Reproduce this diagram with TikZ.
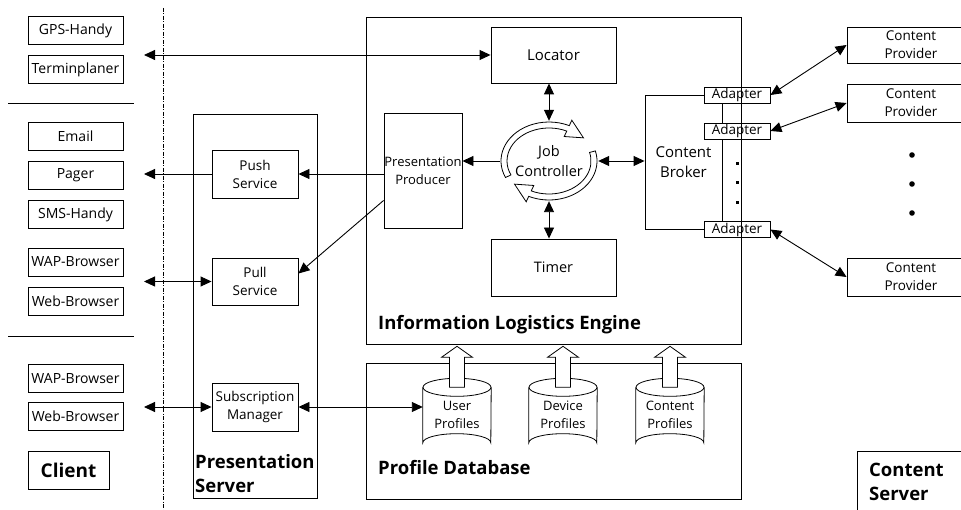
\documentclass[tikz,border=0pt]{standalone}
\usepackage{fontspec}
\setmainfont{Open Sans}
\usepackage{tikz}
\usetikzlibrary{arrows.meta,positioning,calc,shapes.geometric}

\begin{document}
\begin{tikzpicture}[x=1pt, y=-1pt,
  box/.style={draw, line width=0.9pt, inner sep=0pt, align=center,
              font=\fontsize{13.5}{18}\selectfont},
  client/.style={box, minimum width=95pt, minimum height=28pt, font=\fontsize{14}{16}\selectfont},
  frame/.style={draw, line width=0.9pt, inner sep=0pt},
  title/.style={font=\fontsize{18.5}{24}\selectfont\bfseries, align=left, anchor=west, inner sep=0pt},
  conn/.style={line width=0.9pt, {Triangle[length=11pt,width=10pt]}-{Triangle[length=11pt,width=10pt]}},
  oneway/.style={line width=0.9pt, -{Triangle[length=11pt,width=10pt]}},
  hollow/.style={draw, fill=white, line width=0.8pt},
  every node/.style={align=center}]
  \useasboundingbox (0,0) rectangle (961,510);

  % client side
  \foreach \name/\lbl/\y in {gps/GPS-Handy/30.5, term/Terminplaner/69.5,
      email/Email/136.5, pager/Pager/175.5, sms/SMS-Handy/214.5,
      wap/WAP-Browser/262, web/Web-Browser/301,
      wapb/WAP-Browser/378.5, webb/Web-Browser/416}{
    \node[client] (\name) at (75.5,\y) {\lbl};
  }
  \draw[line width=0.9pt] (8,103) -- (134,103);
  \draw[line width=0.9pt] (8,336) -- (134,336);
  \node[box, minimum width=81pt, minimum height=38pt, font=\fontsize{19}{20}\selectfont\bfseries] (client) at (68.5,470) {Client};
  \draw[line width=0.6pt, dash pattern=on 4pt off 1.5pt on 1pt off 1.5pt] (163,8) -- (163,510);

  \coordinate (cloc) at (144,55);
  \coordinate (cpush) at (144,174);
  \coordinate (cpull) at (144,281.5);
  \coordinate (csub) at (144,407);

  % presentation server
  \node[frame, minimum width=124pt, minimum height=384pt] (presserver) at (255,306) {};
  \node[box, minimum width=86pt, minimum height=48pt] (push) at (255,174) {Push\\Service};
  \node[box, minimum width=86pt, minimum height=47pt] (pull) at (255,281.5) {Pull\\Service};
  \node[box, minimum width=86pt, minimum height=48pt] (sub) at (255,407) {Subscription\\Manager};
  \node[title] (pslabel) at (195,474) {Presentation\\Server};

  % information logistics engine
  \node[box, minimum width=125pt, minimum height=56pt, font=\fontsize{15}{18}\selectfont] (locator) at (553.5,55) {Locator};
  \node[box, minimum width=125pt, minimum height=57pt, font=\fontsize{14.5}{18}\selectfont] (timer) at (553.5,267.5) {Timer};
  \node[box, text width=78pt, minimum height=115pt, font=\fontsize{13}{18}\selectfont] (pp) at (423,170.5) {Presentation\\Producer};
  \node[box, minimum width=77pt, minimum height=134pt, font=\fontsize{15}{20}\selectfont] (broker) at (683.5,162) {Content\\Broker};
  \foreach \name/\y in {ad1/95, ad2/131, ad3/229.5}{
    \node[box, fill=white, minimum width=66pt, minimum height=16pt, font=\fontsize{13.5}{14}\selectfont] (\name) at (737,\y) {Adapter};
  }
  \foreach \y in {162,181,201}
    \fill (735.5,\y) rectangle ++(3,3);

  \begin{scope}[shift={(549,161)}, y=1pt]
    \draw[hollow] (205:48 and 39) arc[start angle=205, end angle=65, x radius=48, y radius=39]
      -- (65:54 and 45) -- (40:45 and 36) -- (65:36 and 27) -- (65:42 and 33)
      arc[start angle=65, end angle=205, x radius=42, y radius=33] -- cycle;
    \draw[hollow] (15:48 and 39) arc[start angle=15, end angle=-115, x radius=48, y radius=39]
      -- (-115:54 and 45) -- (-140:45 and 36) -- (-115:36 and 27) -- (-115:42 and 33)
      arc[start angle=-115, end angle=15, x radius=42, y radius=33] -- cycle;
  \end{scope}
  \node[ellipse, inner sep=0pt, minimum width=98pt, minimum height=80pt, font=\fontsize{14.5}{20}\selectfont] (job) at (549,161) {Job\\Controller};

  \node[frame, minimum width=375pt, minimum height=327pt] (ile) at (553.5,180.5) {};
  \node[title] (ilelabel) at (378,325) {Information Logistics Engine};

  % content providers
  \foreach \name/\y/\h in {cp1/45/36, cp2/103/38, cp3/277/38}{
    \node[box, minimum width=128pt, minimum height=\h pt] (\name) at (911,\y) {Content\\Provider};
  }
  \foreach \y in {155,184,213}
    \fill (912,\y) circle (2.8pt);
  \node[frame, minimum width=130pt, minimum height=70pt] (cserver) at (922,486) {};
  \node[title] (cslabel) at (869,482) {Content\\Server};

  % profile database
  \node[frame, minimum width=375pt, minimum height=136pt] (pdb) at (553.5,431) {};
  \node[title] (pdblabel) at (378,468) {Profile Database};
  \foreach \name/\x/\lbl in {user/457/User, device/563/Device, content/670/Content}{
    \node[inner sep=0pt, minimum width=68pt, minimum height=73pt, font=\fontsize{13}{18}\selectfont] (\name) at (\x,415) {\lbl\\Profiles};
    \draw[line width=0.8pt] ($(\name.north west)+(0,9)$) -- ($(\name.south west)+(0,-9)$)
      arc[start angle=180, end angle=360, x radius=34, y radius=9] -- ($(\name.north east)+(0,9)$);
    \draw[line width=0.8pt] ($(\name.north)+(0,9)$) ellipse[x radius=34, y radius=9];
    \draw[hollow] ($(\name.north)+(-7.5,9)$) -- ++(0,-30) -- ++(-8,0) -- ++(15.5,-11)
      -- ++(15.5,11) -- ++(-8,0) -- ++(0,30) -- cycle;
  }

  % connectors
  \draw[conn] (cloc) -- (locator.west);
  \draw[oneway] (push.west) -- (cpush);
  \draw[oneway] (pp.west |- push.east) -- (push.east);
  \draw[conn] (cpull) -- (pull.west);
  \draw[oneway] ($(pp.west)+(0,30)$) -- ($(pull.east)+(0,-8)$);
  \draw[conn] (csub) -- (sub.west);
  \draw[conn] (sub.east) -- (user.west |- sub.east);
  \draw[conn] (locator.south -| job) -- (job.north);
  \draw[conn] (timer.north -| job) -- (job.south);
  \draw[oneway] (job.west) -- (job.west -| pp.east);
  \draw[conn] (job.east) -- (job.east -| broker.west);
  \foreach \a/\c in {ad1/cp1, ad2/cp2, ad3/cp3}
    \draw[conn] (\a.east) -- (\c.west);
\end{tikzpicture}
\end{document}
